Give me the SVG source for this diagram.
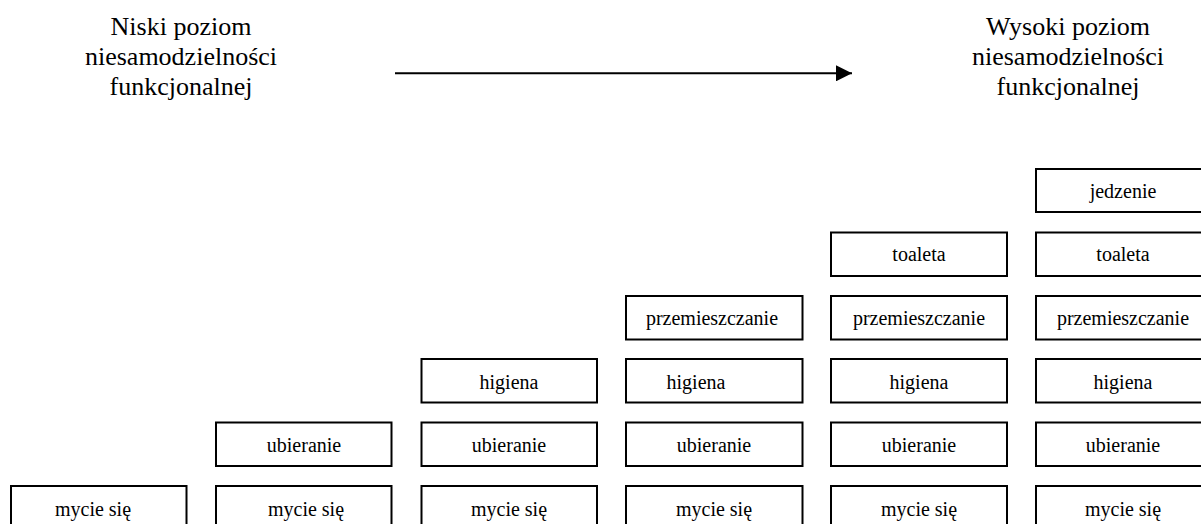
<svg xmlns="http://www.w3.org/2000/svg" width="1201" height="524" viewBox="0 0 1201 524">
  <style>
    .box { fill: #ffffff; stroke: #000000; stroke-width: 2; }
    .lbl { font-family: "Liberation Serif", "Times New Roman", serif; font-size: 20px; fill: #000000; text-anchor: middle; }
    .hdr { font-family: "Liberation Serif", "Times New Roman", serif; font-size: 26px; fill: #000000; text-anchor: middle; }
    .conn { stroke: #000000; stroke-width: 2; fill: none; }
  </style>
  <defs>
    <marker id="arrowhead" markerUnits="userSpaceOnUse" markerWidth="17" markerHeight="16" refX="16" refY="8" orient="auto">
      <polygon points="0,0 16,8 0,16" fill="#000000"/>
    </marker>
  </defs>

  <rect width="1201" height="524" fill="#ffffff"/>

  <!-- scale end labels -->
  <g id="label-low">
    <text class="hdr" x="181" y="35">Niski poziom</text>
    <text class="hdr" x="181" y="65">niesamodzielności</text>
    <text class="hdr" x="181" y="95">funkcjonalnej</text>
  </g>
  <g id="label-high">
    <text class="hdr" x="1068" y="35">Wysoki poziom</text>
    <text class="hdr" x="1068" y="65">niesamodzielności</text>
    <text class="hdr" x="1068" y="95">funkcjonalnej</text>
  </g>

  <g id="connectors">
    <line class="conn" x1="395" y1="73.3" x2="852" y2="73.3" marker-end="url(#arrowhead)"/>
  </g>

  <!-- column 1 -->
  <g id="c1-mycie"><rect class="box" x="11" y="486" width="175.5" height="43.5"/><text class="lbl" x="93" y="515.5">mycie się</text></g>

  <!-- column 2 -->
  <g id="c2-ubieranie"><rect class="box" x="216" y="422.5" width="175.5" height="43.5"/><text class="lbl" x="304" y="452">ubieranie</text></g>
  <g id="c2-mycie"><rect class="box" x="216" y="486" width="175.5" height="43.5"/><text class="lbl" x="306" y="515.5">mycie się</text></g>

  <!-- column 3 -->
  <g id="c3-higiena"><rect class="box" x="421.5" y="359" width="175.5" height="43.5"/><text class="lbl" x="509" y="388.5">higiena</text></g>
  <g id="c3-ubieranie"><rect class="box" x="421.5" y="422.5" width="175.5" height="43.5"/><text class="lbl" x="509" y="452">ubieranie</text></g>
  <g id="c3-mycie"><rect class="box" x="421.5" y="486" width="175.5" height="43.5"/><text class="lbl" x="509" y="515.5">mycie się</text></g>

  <!-- column 4 -->
  <g id="c4-przemieszczanie"><rect class="box" x="626" y="296" width="176.5" height="43.5"/><text class="lbl" x="712" y="324.5">przemieszczanie</text></g>
  <g id="c4-higiena"><rect class="box" x="626" y="359" width="176.5" height="43.5"/><text class="lbl" x="696" y="388.5">higiena</text></g>
  <g id="c4-ubieranie"><rect class="box" x="626" y="422.5" width="176.5" height="43.5"/><text class="lbl" x="714" y="452">ubieranie</text></g>
  <g id="c4-mycie"><rect class="box" x="626" y="486" width="176.5" height="43.5"/><text class="lbl" x="714" y="515.5">mycie się</text></g>

  <!-- column 5 -->
  <g id="c5-toaleta"><rect class="box" x="831" y="232.5" width="176" height="43.5"/><text class="lbl" x="919" y="261">toaleta</text></g>
  <g id="c5-przemieszczanie"><rect class="box" x="831" y="296" width="176" height="43.5"/><text class="lbl" x="919" y="324.5">przemieszczanie</text></g>
  <g id="c5-higiena"><rect class="box" x="831" y="359" width="176" height="43.5"/><text class="lbl" x="919" y="388.5">higiena</text></g>
  <g id="c5-ubieranie"><rect class="box" x="831" y="422.5" width="176" height="43.5"/><text class="lbl" x="919" y="452">ubieranie</text></g>
  <g id="c5-mycie"><rect class="box" x="831" y="486" width="176" height="43.5"/><text class="lbl" x="919" y="515.5">mycie się</text></g>

  <!-- column 6 -->
  <g id="c6-jedzenie"><rect class="box" x="1036" y="169" width="176" height="43"/><text class="lbl" x="1123" y="197.5">jedzenie</text></g>
  <g id="c6-toaleta"><rect class="box" x="1036" y="232.5" width="176" height="43.5"/><text class="lbl" x="1123" y="261">toaleta</text></g>
  <g id="c6-przemieszczanie"><rect class="box" x="1036" y="296" width="176" height="43.5"/><text class="lbl" x="1123" y="324.5">przemieszczanie</text></g>
  <g id="c6-higiena"><rect class="box" x="1036" y="359" width="176" height="43.5"/><text class="lbl" x="1123" y="388.5">higiena</text></g>
  <g id="c6-ubieranie"><rect class="box" x="1036" y="422.5" width="176" height="43.5"/><text class="lbl" x="1123" y="452">ubieranie</text></g>
  <g id="c6-mycie"><rect class="box" x="1036" y="486" width="176" height="43.5"/><text class="lbl" x="1123" y="515.5">mycie się</text></g>
</svg>
